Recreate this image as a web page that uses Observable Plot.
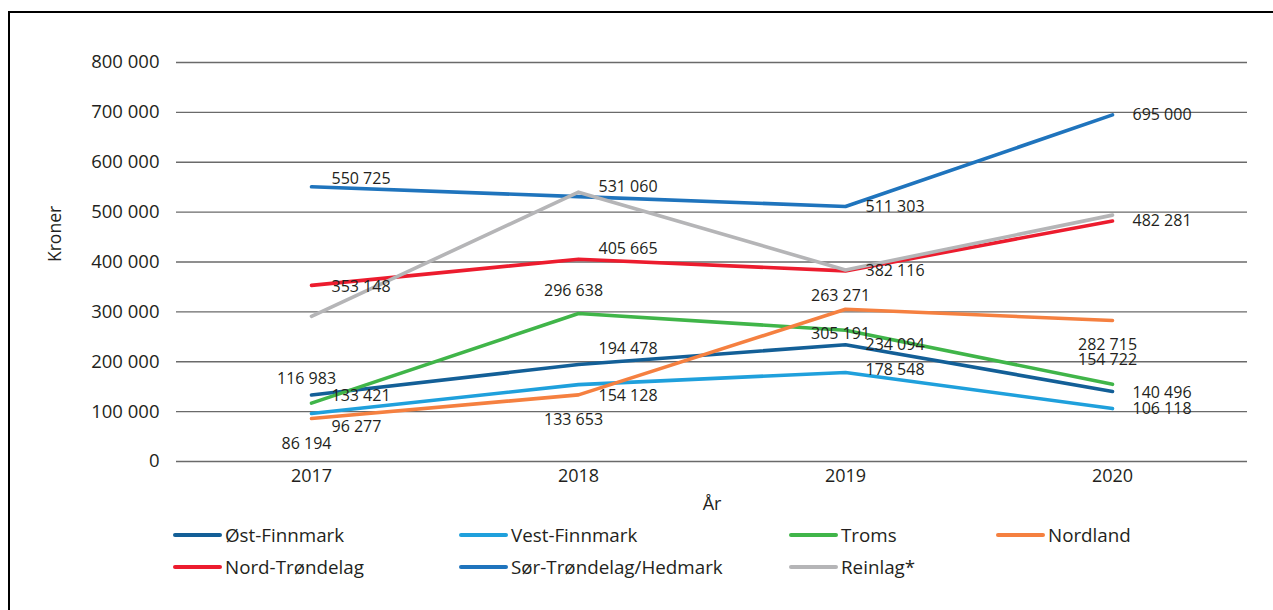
<!DOCTYPE html>
<html>
<head>
<meta charset="utf-8">
<script src="https://cdn.jsdelivr.net/npm/d3@7"></script>
<script src="https://cdn.jsdelivr.net/npm/@observablehq/plot@0.6"></script>
<style>
  html, body { margin: 0; padding: 0; background: #fff; overflow: hidden; }
  #page { position: relative; width: 1273px; height: 610px; overflow: hidden; font-family: "Open Sans", sans-serif; color: #231f20; }
  #frame { position: absolute; left: 8px; top: 11px; width: 1400px; height: 700px; border: 2px solid #000; box-sizing: border-box; }
  #chart { position: absolute; left: 0; top: 0; }
  .leg { position: absolute; display: flex; align-items: center; font-size: 18.8px; color: #231f20; white-space: nowrap; }
  .leg svg { margin-right: 3px; }
</style>
</head>
<body>
<div id="page">
  <div id="frame"></div>
  <div id="chart"></div>
  <div id="legend"></div>
</div>
<script>
// ---- Data ----
const years = [2017, 2018, 2019, 2020];
const seriesNames = ["Øst-Finnmark", "Vest-Finnmark", "Troms", "Nordland", "Nord-Trøndelag", "Sør-Trøndelag/Hedmark", "Reinlag*"];
const ostFinnmark   = [133421, 194478, 234094, 140496];
const vestFinnmark  = [96277, 154128, 178548, 106118];
const troms         = [116983, 296638, 263271, 154722];
const nordland      = [86194, 133653, 305191, 282715];
const nordTrondelag = [353148, 405665, 382116, 482281];
const sorTrondelag  = [550725, 531060, 511303, 695000];
const reinlag       = [291000, 540000, 384000, 494000]; // no labels in source
const yTicks = [0, 100000, 200000, 300000, 400000, 500000, 600000, 700000, 800000];
const yTitle = "Kroner";
const xTitle = "År";
const colors = ["#135f97", "#1fa0dc", "#40b549", "#f58040", "#ec1c2e", "#1f74bd", "#b5b5b7"];

const seriesValues = [ostFinnmark, vestFinnmark, troms, nordland, nordTrondelag, sorTrondelag, reinlag];
const rows = [];
seriesNames.forEach((s, si) => years.forEach((y, i) => rows.push({series: s, year: y, value: seriesValues[si][i], idx: i})));

const fmt = v => d3.format(",")(v).replace(/,/g, " ");

// ---- Label layout (as in the source chart) ----
const placement = {
  "Øst-Finnmark": "right", "Vest-Finnmark": "right", "Troms": "above", "Nordland": "below",
  "Nord-Trøndelag": "right", "Sør-Trøndelag/Hedmark": "right"
};
const nudge = {
  "Sør-Trøndelag/Hedmark": [-8, -10, 0, 0],
  "Nord-Trøndelag": [2, -10, 0, 0],
  "Øst-Finnmark": [1, -16, 0, 1],
  "Vest-Finnmark": [13, 11, -3, 0],
  "Troms": [-24, -23, -34, -24],
  "Nordland": [25, 25, 25, 24]
};

const labelMarks = [];
rows.forEach(r => {
  const p = placement[r.series];
  if (!p) return;
  const dy = nudge[r.series][r.idx];
  labelMarks.push(Plot.text([r], {
    x: "year", y: "value", text: d => fmt(d.value),
    dx: p === "right" ? 20 : -5, dy,
    textAnchor: p === "right" ? "start" : "middle",
    fontSize: 16, fill: "#231f20"
  }));
});

const chart = Plot.plot({
  width: 1273,
  height: 520,
  marginLeft: 176,
  marginRight: 26,
  marginTop: 62,
  marginBottom: 59,
  style: {fontFamily: "Open Sans, sans-serif", color: "#231f20", background: "transparent"},
  x: {type: "point", domain: years, padding: 0.5},
  y: {domain: [0, 800000]},
  color: {domain: seriesNames, range: colors},
  marks: [
    Plot.ruleY(yTicks, {stroke: "#6a6a6a", strokeWidth: 1.3}),
    Plot.axisY({ticks: yTicks, tickSize: 0, tickPadding: 17, tickFormat: fmt, fontSize: 18.5, label: null}),
    Plot.axisX({tickSize: 0, tickPadding: 8, tickFormat: d => String(d), fontSize: 18, label: null}),
    Plot.text([yTitle], {frameAnchor: "left", text: d => d, rotate: -90, dx: -121, fontSize: 17.5, fill: "#231f20"}),
    Plot.text([xTitle], {frameAnchor: "bottom", text: d => d, dy: 48, fontSize: 18, fill: "#231f20"}),
    Plot.line(rows, {x: "year", y: "value", z: "series", stroke: "series", strokeWidth: 3.6, strokeLinejoin: "round", strokeLinecap: "round"}),
    ...labelMarks
  ]
});
document.getElementById("chart").appendChild(chart);

// ---- Legend ----
const legendPos = [[173, 535], [459, 535], [789, 535], [996, 535], [173, 567], [459, 567], [789, 567]];
const legend = document.getElementById("legend");
seriesNames.forEach((s, i) => {
  const el = document.createElement("div");
  el.className = "leg";
  el.style.left = legendPos[i][0] + "px";
  el.style.top = (legendPos[i][1] - 13) + "px";
  el.style.height = "26px";
  el.innerHTML = `<svg width="49" height="8"><line x1="2" y1="4" x2="47" y2="4" stroke="${colors[i]}" stroke-width="4" stroke-linecap="round"/></svg><span>${s}</span>`;
  legend.appendChild(el);
});
</script>
</body>
</html>
